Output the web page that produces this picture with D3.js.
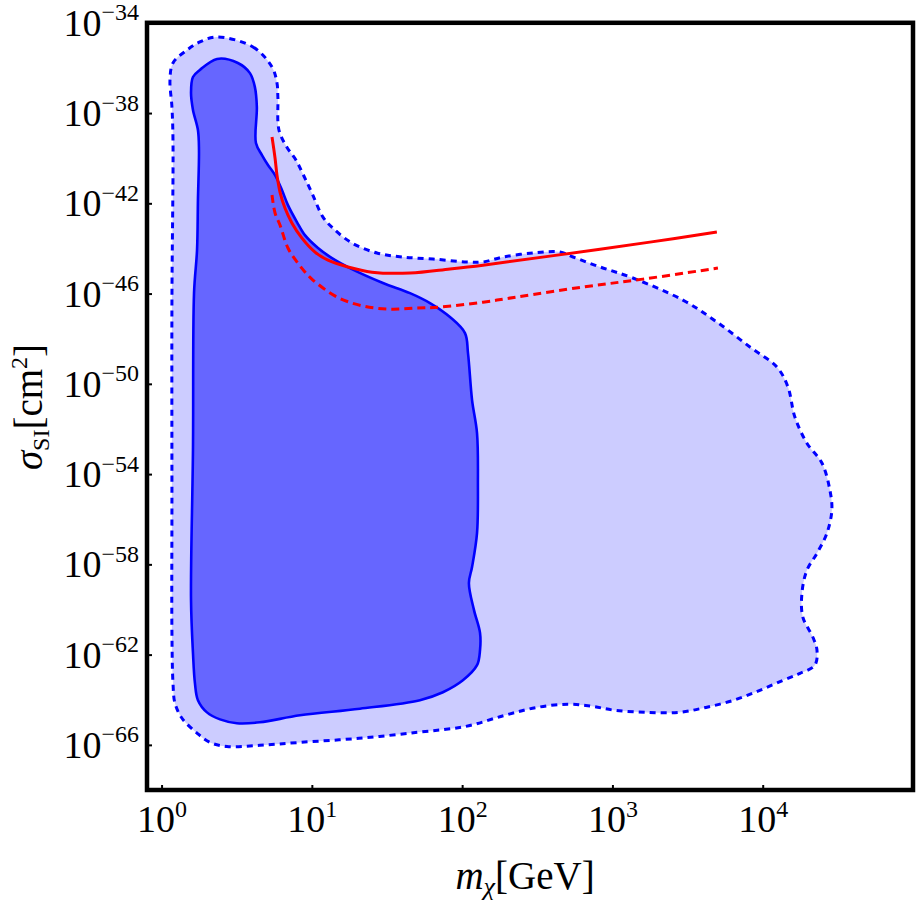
<!DOCTYPE html>
<html>
<head>
<meta charset="utf-8">
<script src="https://cdn.jsdelivr.net/npm/d3@7"></script>
<style>
  body { margin: 0; background: #fff; }
  text { font-family: "Liberation Serif", "DejaVu Serif", serif; fill: #000; }
</style>
</head>
<body>
<div id="chart"></div>
<script>
// contours: log10(m / GeV) and log10(sigma / cm^2)
var outerLogM = [0.369, 0.608, 0.735, 0.768, 0.774, 0.781, 0.834, 0.894, 0.947, 1.001, 1.074, 1.140, 1.267, 1.433, 1.606, 1.806, 2.032, 2.139, 2.272, 2.472, 2.651, 2.738, 2.917, 3.136, 3.469, 3.695, 3.915, 4.095, 4.168, 4.214, 4.294, 4.394, 4.447, 4.460, 4.427, 4.361, 4.294, 4.261, 4.267, 4.334, 4.361, 4.347, 4.248, 4.134, 3.981, 3.808, 3.622, 3.442, 3.230, 3.017, 2.864, 2.704, 2.498, 2.284, 2.025, 1.706, 1.313, 0.921, 0.654, 0.435, 0.322, 0.236, 0.136, 0.089, 0.076, 0.069, 0.069, 0.069, 0.076, 0.069, 0.056, 0.076, 0.169, 0.255];
var outerLogS = [-34.63, -35.07, -35.96, -36.67, -37.29, -38.75, -39.51, -40.08, -40.79, -41.55, -42.61, -43.10, -43.76, -44.20, -44.38, -44.47, -44.60, -44.60, -44.38, -44.20, -44.16, -44.38, -44.82, -45.31, -46.29, -47.26, -48.37, -49.26, -50.14, -51.47, -52.63, -53.51, -54.71, -55.60, -56.62, -57.51, -58.26, -59.28, -60.34, -61.23, -61.80, -62.47, -62.83, -63.14, -63.58, -64.02, -64.34, -64.56, -64.56, -64.47, -64.29, -64.20, -64.34, -64.69, -65.18, -65.44, -65.71, -65.89, -66.02, -66.07, -65.89, -65.48, -64.82, -64.15, -63.26, -61.04, -55.14, -46.29, -39.20, -37.73, -36.54, -35.78, -35.21, -34.85];

var innerLogM = [0.369, 0.508, 0.588, 0.621, 0.634, 0.628, 0.668, 0.708, 0.755, 0.801, 0.841, 0.901, 0.954, 1.041, 1.134, 1.253, 1.473, 1.653, 1.786, 1.919, 2.019, 2.039, 2.066, 2.099, 2.105, 2.099, 2.066, 2.045, 2.079, 2.119, 2.119, 2.099, 2.005, 1.872, 1.719, 1.320, 0.921, 0.654, 0.501, 0.389, 0.302, 0.242, 0.222, 0.209, 0.196, 0.209, 0.216, 0.236, 0.242, 0.249, 0.242, 0.209, 0.196, 0.209, 0.255];
var innerLogS = [-35.60, -35.78, -36.23, -36.85, -37.73, -39.33, -39.86, -40.30, -40.75, -41.41, -42.08, -42.83, -43.41, -43.98, -44.43, -44.87, -45.53, -45.98, -46.42, -47.04, -47.75, -48.64, -50.72, -52.18, -54.40, -56.62, -58.12, -58.83, -60.03, -61.04, -61.80, -62.47, -63.14, -63.67, -64.02, -64.40, -64.69, -65.00, -65.04, -64.87, -64.56, -64.02, -63.26, -61.93, -59.58, -52.94, -45.98, -44.07, -41.85, -39.64, -38.75, -37.86, -37.11, -36.40, -36.09];

// red limit curves
var limitLogM = [0.735, 0.755, 0.768, 0.788, 0.821, 0.868, 0.934, 1.021, 1.107, 1.240, 1.400, 1.653, 1.919, 2.139, 2.584, 3.249, 3.695];
var limitLogS = [-39.06, -39.99, -40.75, -41.50, -42.21, -42.88, -43.54, -44.16, -44.52, -44.82, -45.05, -45.09, -44.91, -44.74, -44.34, -43.72, -43.27];
var futureLogM = [0.735, 0.755, 0.788, 0.841, 0.901, 0.954, 1.007, 1.167, 1.340, 1.520, 1.699, 1.852, 2.139, 2.365, 2.804, 3.203, 3.702];
var futureLogS = [-41.63, -42.43, -42.96, -43.98, -44.60, -45.04, -45.40, -46.15, -46.55, -46.69, -46.64, -46.60, -46.38, -46.15, -45.71, -45.36, -44.87];

var xTicks = [1, 10, 100, 1000, 10000];
var yTicks = [1e-34, 1e-38, 1e-42, 1e-46, 1e-50, 1e-54, 1e-58, 1e-62, 1e-66];

function toPoints(lm, ls) {
    return lm.map(function(v, i) {
        return {m: Math.pow(10, v), s: Math.pow(10, ls[i])};
    });
}

var width = 917, height = 902;
var plotLeft = 147, plotRight = 913, plotTop = 22.8, plotBottom = 790;

var svg = d3.select("#chart").append("svg")
    .attr("width", width)
    .attr("height", height);

var x = d3.scaleLog().domain([0.8, 1e5]).range([plotLeft, plotRight]);
var y = d3.scaleLog().domain([1e-68, 1e-34]).range([plotBottom, plotTop]);

svg.append("clipPath").attr("id", "plotclip")
    .append("rect")
    .attr("x", plotLeft).attr("y", plotTop)
    .attr("width", plotRight - plotLeft).attr("height", plotBottom - plotTop);

var plot = svg.append("g").attr("clip-path", "url(#plotclip)");

var closedLine = d3.line()
    .x(function(d) { return x(d.m); })
    .y(function(d) { return y(d.s); })
    .curve(d3.curveCatmullRomClosed.alpha(0.5));

var openLine = d3.line()
    .x(function(d) { return x(d.m); })
    .y(function(d) { return y(d.s); })
    .curve(d3.curveCatmullRom.alpha(0.5));

var outer = toPoints(outerLogM, outerLogS);
var inner = toPoints(innerLogM, innerLogS);

plot.append("path").attr("d", closedLine(outer))
    .attr("fill", "#ccccff").attr("stroke", "none");
plot.append("path").attr("d", closedLine(inner))
    .attr("fill", "#6666ff")
    .attr("stroke", "#0000ff").attr("stroke-width", 2.6);
plot.append("path").attr("d", closedLine(outer))
    .attr("fill", "none")
    .attr("stroke", "#0000ff").attr("stroke-width", 3)
    .attr("stroke-dasharray", "6,5");

plot.append("path").attr("d", openLine(toPoints(limitLogM, limitLogS)))
    .attr("fill", "none")
    .attr("stroke", "#ff0000").attr("stroke-width", 3);
plot.append("path").attr("d", openLine(toPoints(futureLogM, futureLogS)))
    .attr("fill", "none")
    .attr("stroke", "#ff0000").attr("stroke-width", 3)
    .attr("stroke-dasharray", "8,5");

// axes, ticks pointing inward
var xAxis = svg.append("g")
    .attr("transform", "translate(0," + plotBottom + ")")
    .call(d3.axisBottom(x).tickValues(xTicks).tickSizeInner(-5).tickSizeOuter(0).tickPadding(0));
var yAxis = svg.append("g")
    .attr("transform", "translate(" + plotLeft + ",0)")
    .call(d3.axisLeft(y).tickValues(yTicks).tickSizeInner(-5).tickSizeOuter(0).tickPadding(8));

[xAxis, yAxis].forEach(function(a) {
    a.select(".domain").remove();
    a.selectAll(".tick line").attr("stroke", "#000").attr("stroke-width", 2);
    a.attr("font-size", null).attr("font-family", null);
});

function powerLabel(sel, baseY, supDy) {
    sel.each(function(d) {
        var t = d3.select(this);
        var e = Math.round(Math.log10(d));
        t.text(null).attr("dy", null).attr("y", baseY)
            .style("font-size", "38px");
        t.append("tspan").text("10");
        t.append("tspan").attr("dy", supDy).style("font-size", "24px")
            .text(e < 0 ? "\u2212" + (-e) : e);
    });
}
powerLabel(xAxis.selectAll(".tick text"), 42, -15);
powerLabel(yAxis.selectAll(".tick text"), 12.5, -15.5);

// frame
svg.append("rect")
    .attr("x", plotLeft).attr("y", plotTop)
    .attr("width", plotRight - plotLeft).attr("height", plotBottom - plotTop)
    .attr("fill", "none").attr("stroke", "#000").attr("stroke-width", 4.5);

// axis titles
var xt = svg.append("text")
    .attr("x", 525).attr("y", 889)
    .attr("text-anchor", "middle")
    .style("font-size", "39px");
xt.append("tspan").style("font-style", "italic").text("m");
xt.append("tspan").attr("dy", 6).style("font-style", "italic").style("font-size", "26px").text("\u03c7");
xt.append("tspan").attr("dy", -6).text("[GeV]");

var yt = svg.append("text")
    .attr("transform", "translate(42,407) rotate(-90)")
    .attr("text-anchor", "middle")
    .style("font-size", "39px");
yt.append("tspan").style("font-style", "italic").text("\u03c3");
yt.append("tspan").attr("dy", 7).style("font-size", "24px").text("SI");
yt.append("tspan").attr("dy", -7).text("[cm");
yt.append("tspan").attr("dy", -15).style("font-size", "24px").text("2");
yt.append("tspan").attr("dy", 15).text("]");
</script>
</body>
</html>
